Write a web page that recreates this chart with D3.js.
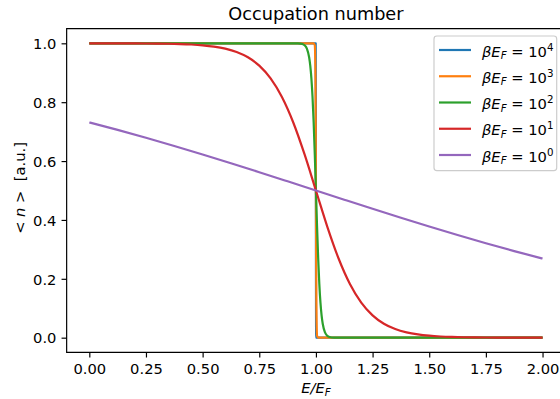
<!DOCTYPE html>
<html><head><meta charset="utf-8">
<script src="https://cdn.jsdelivr.net/npm/d3@7"></script>
<style>
html,body{margin:0;padding:0;background:#fff;}
svg{display:block;font-family:"DejaVu Sans",sans-serif;}
</style></head>
<body>
<svg id="chart" width="560" height="399"></svg>
<script>
// ---- data ----
const chartTitle = "Occupation number";
const xTicks = [0, 0.25, 0.5, 0.75, 1.0, 1.25, 1.5, 1.75, 2.0];
const xTickLabels = ["0.00","0.25","0.50","0.75","1.00","1.25","1.50","1.75","2.00"];
const yTicks = [0, 0.2, 0.4, 0.6, 0.8, 1.0];
const yTickLabels = ["0.0","0.2","0.4","0.6","0.8","1.0"];
const seriesExponents = ["4","3","2","1","0"];

const E_b4 = [0, 0.999, 0.9999, 1.0, 1.0001, 1.001, 2];
const n_b4 = [1, 0.99995, 0.7311, 0.5, 0.2689, 0.00005, 0];

const E_b3 = [0, 0.99, 0.995, 0.998, 0.999, 1.0, 1.001, 1.002, 1.005, 1.01, 2];
const n_b3 = [1, 0.99995, 0.9933, 0.8808, 0.7311, 0.5, 0.2689, 0.1192, 0.0067, 0.00005, 0];

const E_b2 = [0, 0.9, 0.92, 0.94, 0.95, 0.96, 0.97, 0.975, 0.98, 0.985, 0.99, 0.995, 1.0,
              1.005, 1.01, 1.015, 1.02, 1.025, 1.03, 1.04, 1.05, 1.06, 1.08, 1.1, 2];
const n_b2 = [1, 0.99995, 0.9997, 0.9975, 0.9933, 0.9820, 0.9526, 0.9241, 0.8808, 0.8176, 0.7311, 0.6225, 0.5,
              0.3775, 0.2689, 0.1824, 0.1192, 0.0759, 0.0474, 0.0180, 0.0067, 0.0025, 0.0003, 0.00005, 0];

const E_b1 = [0, 0.05, 0.1, 0.15, 0.2, 0.25, 0.3, 0.35, 0.4, 0.45, 0.5, 0.55, 0.6, 0.65, 0.7, 0.75, 0.8, 0.85, 0.9, 0.95,
              1.0, 1.05, 1.1, 1.15, 1.2, 1.25, 1.3, 1.35, 1.4, 1.45, 1.5, 1.55, 1.6, 1.65, 1.7, 1.75, 1.8, 1.85, 1.9, 1.95, 2.0];
const n_b1 = [0.99995, 0.99993, 0.99988, 0.99980, 0.99966, 0.99945, 0.99909, 0.99850, 0.99753, 0.99593, 0.99331,
              0.9890, 0.9820, 0.9707, 0.9526, 0.9241, 0.8808, 0.8176, 0.7311, 0.6225,
              0.5, 0.3775, 0.2689, 0.1824, 0.1192, 0.0759, 0.0474, 0.0293, 0.0180, 0.0110, 0.00669,
              0.00407, 0.00247, 0.00150, 0.00091, 0.00055, 0.00034, 0.00020, 0.00012, 0.00007, 0.00005];

const E_b0 = [0, 0.125, 0.25, 0.375, 0.5, 0.625, 0.75, 0.875, 1.0, 1.125, 1.25, 1.375, 1.5, 1.625, 1.75, 1.875, 2.0];
const n_b0 = [0.7311, 0.7058, 0.6792, 0.6514, 0.6225, 0.5927, 0.5622, 0.5312, 0.5, 0.4688, 0.4378, 0.4073, 0.3775, 0.3486, 0.3208, 0.2942, 0.2689];

// ---- styles ----
const colors = ["#1f77b4", "#ff7f0e", "#2ca02c", "#d62728", "#9467bd"];
const seriesE = [E_b4, E_b3, E_b2, E_b1, E_b0];
const seriesN = [n_b4, n_b3, n_b2, n_b1, n_b0];

const svg = d3.select("#chart");
const L = 66.65, R = 565.2, T = 28.6, B = 352.4;
const x = d3.scaleLinear().domain([-0.1, 2.1]).range([L, R]);
const y = d3.scaleLinear().domain([-0.05, 1.05]).range([B, T]);
const fs = 14.7, lw = 2.2, sw = 1.18, tl = 5.1;

svg.append("defs").append("clipPath").attr("id","clip")
  .append("rect").attr("x", L).attr("y", T).attr("width", R - L).attr("height", B - T);

// lines
const line = d3.line().x(d => x(d[0])).y(d => y(d[1])).curve(d3.curveMonotoneX);
const g = svg.append("g").attr("clip-path", "url(#clip)");
seriesE.forEach((E, i) => {
  const pts = E.map((e, k) => [e, seriesN[i][k]]);
  g.append("path").attr("d", line(pts)).attr("fill", "none")
    .attr("stroke", colors[i]).attr("stroke-width", lw)
    .attr("stroke-linejoin", "round").attr("stroke-linecap", "butt");
});

// axes
const xAxis = d3.axisBottom(x).tickValues(xTicks).tickFormat((d, i) => xTickLabels[i]).tickSize(tl).tickPadding(5.1);
const yAxis = d3.axisLeft(y).tickValues(yTicks).tickFormat((d, i) => yTickLabels[i]).tickSize(tl).tickPadding(5.1);
const gx = svg.append("g").attr("transform", `translate(0,${B})`).call(xAxis);
const gy = svg.append("g").attr("transform", `translate(${L},0)`).call(yAxis);
[gx, gy].forEach(a => {
  a.select(".domain").remove();
  a.selectAll(".tick line").attr("stroke", "#000").attr("stroke-width", sw);
  a.selectAll(".tick text").attr("fill", "#000").attr("font-size", fs)
    .attr("font-family", "DejaVu Sans");
});
gx.selectAll(".tick text").attr("dy", null).attr("y", 21.4);
gy.selectAll(".tick text").attr("dy", "0.36em");

// spines: left, bottom, top (right is outside the picture)
svg.append("path").attr("d", `M${R},${T}H${L}V${B}H${R}`).attr("fill", "none")
  .attr("stroke", "#000").attr("stroke-width", sw).attr("stroke-linecap", "square");

// title
svg.append("text").attr("x", (L + R) / 2).attr("y", 20).attr("text-anchor", "middle")
  .attr("font-size", 17.7).attr("fill", "#000").text(chartTitle);

// x label E/E_F
const xl = svg.append("text").attr("x", (L + R) / 2).attr("y", 393).attr("text-anchor", "middle")
  .attr("font-size", fs).attr("fill", "#000");
xl.append("tspan").attr("font-style", "italic").text("E/E");
xl.append("tspan").attr("font-style", "italic").attr("font-size", fs * 0.7).attr("dy", 2.5).text("F");

// y label
const yl = svg.append("text").attr("transform", "translate(25,188) rotate(-90)")
  .attr("text-anchor", "middle").attr("font-size", fs).attr("fill", "#000")
  .style("white-space", "pre");
yl.append("tspan").text("< ");
yl.append("tspan").attr("font-style", "italic").text("n");
yl.append("tspan").text(" >  [a.u.]");

// legend
const lg = svg.append("g");
lg.append("rect").attr("x", 434).attr("y", 36).attr("width", 122.7).attr("height", 134.7)
  .attr("rx", 2.9).attr("fill", "#fff").attr("fill-opacity", 0.8)
  .attr("stroke", "#cccccc").attr("stroke-width", sw);
seriesExponents.forEach((ex, i) => {
  const ry = 50 + i * 26.25;
  lg.append("line").attr("x1", 439).attr("x2", 471).attr("y1", ry).attr("y2", ry)
    .attr("stroke", colors[i]).attr("stroke-width", lw);
  const t = lg.append("text").attr("x", 482).attr("y", ry + 6.5).attr("font-size", fs).attr("fill", "#000");
  t.append("tspan").attr("font-style", "italic").text("βE");
  t.append("tspan").attr("font-style", "italic").attr("font-size", fs * 0.7).attr("dy", 2.5).text("F");
  t.append("tspan").attr("dy", -2.5).text(" = 10");
  t.append("tspan").attr("font-size", fs * 0.7).attr("dy", -6).text(ex);
});
</script>
</body></html>
